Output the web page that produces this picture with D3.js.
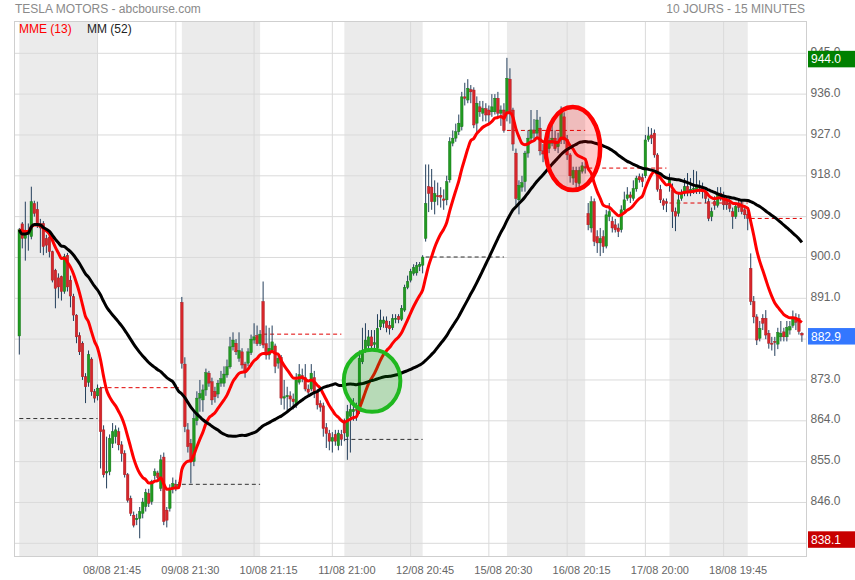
<!DOCTYPE html>
<html><head><meta charset="utf-8">
<script src="https://cdn.jsdelivr.net/npm/d3@7"></script>
<style>body{margin:0;background:#fff;}svg{display:block;font-family:Arial,"Liberation Sans",sans-serif;}</style>
</head><body><svg id="c" width="855" height="580"></svg>
<script>
// ---- DATA (15-minute bars, 10 sessions) ----
const opens=[
882.7,907.4,904.2,905.0,904.6,911.9,910.6,907.5,907.5,904.2,904.5,901.3,897.2,895.5,895.8,892.5,900.5,895.0,891.4,887.3,882.8,881.1,873.7,872.5,877.6,870.4,869.5,
871.2,862.0,852.5,852.8,859.0,860.5,861.6,858.7,856.8,852.1,846.9,843.2,842.2,842.5,843.6,845.1,848.0,846.2,851.9,852.5,849.1,856.0,844.3,844.7,849.1,850.0,849.5,
890.1,876.5,862.0,859.0,855.0,864.0,869.0,868.6,870.8,874.5,872.6,870.5,869.9,872.3,872.3,874.1,875.9,880.3,881.1,877.8,879.2,876.5,876.7,879.0,881.8,882.8,881.0,
890.3,881.0,878.5,879.6,880.5,876.7,878.0,869.0,869.3,869.5,868.8,867.5,872.5,874.0,873.5,871.0,871.0,873.5,870.5,867.8,867.3,862.5,861.2,859.5,861.0,858.5,861.0,
863.5,860.5,865.0,866.0,866.5,866.0,877.0,879.6,880.5,882.5,880.8,880.0,884.7,885.5,886.0,885.0,884.5,886.5,887.0,886.4,888.4,893.4,895.0,896.5,896.6,898.0,898.3,
904.2,915.6,915.5,912.3,913.6,913.7,912.9,912.7,917.1,925.2,926.3,927.7,928.8,935.4,934.7,937.0,936.9,929.6,933.2,931.8,932.8,932.5,932.1,932.1,935.1,931.8,932.5,
931.8,939.3,932.5,923.0,912.7,915.5,916.7,923.0,926.3,928.1,927.4,928.5,923.5,922.2,924.0,925.2,926.3,924.4,925.9,931.0,926.0,922.6,917.5,919.2,916.3,919.0,920.0,
909.7,906.5,912.3,904.6,903.2,904.6,902.5,909.0,908.0,907.2,906.5,906.1,910.5,913.0,913.8,913.0,915.1,917.8,917.6,918.0,926.0,927.0,927.4,922.6,915.0,912.5,912.3,
915.8,914.9,910.1,909.7,913.0,914.2,915.6,914.6,915.0,914.8,915.6,915.5,914.5,912.3,909.0,912.3,911.5,914.1,913.4,912.5,911.9,910.1,909.0,911.5,911.2,910.5,909.5,
897.6,890.3,886.9,882.2,886.6,886.6,883.3,881.1,881.5,880.9,882.5,883.6,882.5,884.0,885.0,886.6,886.6,883.3];
const highs=[
906.5,907.8,912.3,907.5,915.6,912.5,912.3,908.5,908.0,905.0,905.0,901.5,897.5,896.5,896.0,900.8,901.0,896.0,892.0,887.5,883.5,881.5,874.5,879.5,878.0,871.0,872.0,
871.5,863.0,860.5,861.0,863.5,863.0,862.5,859.5,857.5,852.5,847.5,844.0,843.5,845.0,847.0,849.0,849.0,851.0,853.5,853.0,856.5,857.0,845.0,850.0,851.5,851.0,850.5,
891.3,878.0,863.5,860.0,866.0,870.5,873.0,872.0,875.5,875.0,873.5,871.5,873.0,875.0,876.0,877.5,882.5,883.5,882.0,883.5,880.0,877.0,880.0,883.0,885.5,885.0,884.0,
894.7,885.0,884.5,885.0,881.0,878.5,878.5,873.0,871.5,870.5,870.0,874.5,876.5,875.5,876.5,872.0,876.5,875.0,871.0,868.5,868.0,863.5,862.0,861.5,862.0,862.0,862.0,
864.5,867.5,868.0,869.0,868.0,879.5,884.5,885.5,884.0,884.0,884.0,887.5,888.5,887.0,887.0,886.0,887.5,887.5,887.5,889.5,894.0,896.0,897.5,898.5,899.0,899.0,900.5,
920.5,920.5,919.5,917.0,916.5,915.5,915.0,918.0,926.5,928.0,929.5,931.5,936.5,938.5,939.3,938.0,937.5,935.5,934.5,934.5,934.0,933.5,936.0,936.0,936.5,933.5,934.0,
944.0,941.7,933.0,924.0,917.0,918.0,923.5,928.0,932.5,930.5,932.5,931.0,925.0,925.5,927.5,929.5,928.0,927.5,933.3,932.0,927.0,923.0,920.0,920.0,920.0,921.0,921.0,
912.0,913.5,913.0,906.0,906.5,906.0,910.5,912.0,909.0,908.5,907.5,911.5,914.5,915.5,914.5,917.0,918.0,918.5,918.5,927.0,928.8,928.5,928.2,923.0,916.0,913.0,913.0,
918.5,916.3,911.0,914.0,915.0,917.5,918.6,917.5,919.3,919.0,917.0,916.5,915.0,913.0,911.0,913.5,915.5,915.5,914.5,913.5,913.0,911.0,912.0,912.5,912.5,911.5,910.5,
900.9,891.5,887.5,886.0,887.5,888.4,884.0,882.5,882.5,884.5,886.0,884.5,886.0,886.0,888.3,887.7,887.5,883.5];
const lows=[
878.6,902.0,899.3,901.5,904.0,909.0,906.5,901.0,900.5,901.0,900.0,894.5,888.8,891.0,890.5,892.0,892.5,889.0,886.0,881.1,878.5,873.0,867.9,871.5,869.5,868.0,868.5,
853.5,851.5,849.1,852.0,858.0,859.0,857.5,855.0,851.5,846.0,843.0,840.5,841.0,838.1,842.5,844.0,845.0,845.5,851.0,850.5,848.5,841.0,840.5,844.0,848.0,848.5,849.0,
875.5,861.5,857.0,850.2,854.0,863.0,866.0,866.0,869.5,871.5,867.5,868.0,869.0,871.5,871.5,873.5,875.5,879.5,878.5,877.0,875.5,873.5,876.0,878.5,881.0,880.5,880.5,
880.0,877.5,877.5,879.0,874.5,875.5,867.5,866.5,866.0,867.0,866.5,866.8,872.0,872.5,870.5,869.5,870.5,869.0,866.5,866.0,860.5,858.0,857.5,857.0,858.5,857.5,858.5,
859.5,855.4,857.0,864.0,864.0,865.5,876.5,879.0,879.5,879.5,879.5,879.5,884.0,884.5,883.5,883.0,884.0,885.5,885.5,886.0,888.0,893.0,894.5,896.0,896.0,897.0,896.5,
903.5,910.0,910.5,909.5,911.5,911.0,910.5,911.5,916.5,924.5,925.5,927.0,928.0,933.5,934.0,934.0,928.5,927.5,931.0,930.0,930.0,929.5,931.0,931.5,931.0,929.0,927.5,
930.0,929.5,923.5,911.5,909.5,914.5,914.5,922.0,925.5,926.0,926.5,922.5,921.0,921.5,923.0,924.5,923.5,923.0,925.0,925.0,921.5,916.5,916.0,915.0,915.5,918.5,918.5,
906.0,905.5,902.5,901.0,900.3,901.0,902.0,908.0,905.5,905.5,904.5,905.5,910.0,912.5,912.0,912.5,914.5,916.5,915.5,917.5,925.5,925.0,922.0,914.5,912.0,910.5,910.0,
914.5,906.5,905.8,909.0,912.5,913.5,913.5,913.5,914.0,914.0,914.0,913.0,912.0,908.0,908.0,910.5,911.0,912.5,910.5,910.5,910.0,906.3,908.5,910.0,909.5,908.5,906.0,
889.5,885.5,880.7,881.5,884.0,882.0,879.9,879.5,878.3,879.8,881.5,881.5,881.5,883.0,884.5,884.0,883.0,881.4];
const closes=[
906.1,904.2,905.2,906.0,912.3,909.7,907.2,906.5,902.4,902.7,901.3,895.0,893.2,893.5,892.5,900.2,893.5,891.5,887.3,882.5,879.2,873.7,871.5,878.6,870.4,869.0,871.2,
861.6,852.1,852.8,860.1,861.6,862.0,858.7,856.8,852.1,846.5,843.6,841.0,842.5,844.0,846.1,848.2,845.8,850.6,852.8,851.5,855.4,841.8,842.1,849.1,850.2,849.5,850.0,
876.7,862.7,858.3,855.4,864.5,869.0,870.0,870.8,874.6,872.3,868.6,869.3,872.3,873.3,874.3,875.9,880.3,881.8,879.2,879.5,876.3,875.0,879.2,882.0,882.5,881.0,883.1,
880.7,878.5,880.0,881.4,876.0,877.8,869.0,869.3,869.6,868.8,868.2,873.0,874.2,873.8,871.0,870.3,874.5,870.0,867.5,867.0,862.3,861.2,859.5,860.3,859.5,861.3,859.9,
861.3,866.0,866.5,866.5,866.3,877.8,879.2,881.8,882.5,880.5,881.2,884.4,886.2,886.2,884.5,884.3,886.5,886.6,886.3,888.8,893.4,894.7,896.9,897.8,898.2,898.5,900.1,
911.9,914.1,912.3,914.1,913.4,913.3,912.6,916.7,925.5,926.3,927.7,929.6,935.4,935.1,937.3,936.5,929.2,934.0,932.1,932.8,931.4,931.4,933.2,935.1,931.8,932.5,928.0,
939.5,931.8,925.0,913.0,915.9,916.5,923.0,926.3,928.1,927.4,930.3,923.5,922.8,924.4,925.8,926.3,924.0,925.5,932.1,925.9,922.6,918.0,919.2,916.5,919.2,920.2,919.7,
907.2,912.3,903.5,903.2,904.2,902.4,909.4,910.1,906.5,906.1,905.7,910.5,912.7,913.8,913.2,915.2,917.5,917.1,916.7,925.9,926.8,926.3,922.6,915.0,912.7,911.5,911.9,
917.1,910.1,909.1,912.7,914.2,915.6,914.6,915.0,915.2,915.6,915.3,914.5,913.0,908.6,910.1,911.5,914.1,913.4,911.6,911.6,910.8,909.0,911.2,911.0,910.1,909.4,908.6,
890.3,886.9,881.8,884.4,885.5,882.9,881.1,881.0,881.3,883.5,883.3,882.5,884.6,884.8,886.8,885.7,883.7,882.9];
const dayStarts=[0,27,54,81,108,135,162,189,216,243];
const prevCloses=[864.5,871.3,850.0,883.1,859.9,900.1,928.0,919.7,912.0,908.6];
const shadedDays=[0,2,4,6,8];
const tickIdx=[25,51,77,103,129,155,181,207,233];
const tickLabels=["08/08 21:45","09/08 21:30","10/08 21:15","11/08 21:00","12/08 20:45","15/08 20:30","16/08 20:15","17/08 20:00","18/08 19:45"];
const yTicks=[945,936,927,918,909,900,891,882,873,864,855,846,837];
const yLabelTicks=[945,936,927,918,909,900,891,873,864,855,846];
const emaPeriod=13, smaPeriod=52;
const annIdx=[117.2,183.9], annVal=[872.8,924.0];

// ---- CHART ----
const svg=d3.select("#c");
const n=closes.length;
const L=14.5,R=806.5,T=21.5,B=556.5;
const x=d3.scaleLinear().domain([0,260]).range([19.3,801.9]);
const y=d3.scaleLinear().domain([837,945]).range([543.3,53.3]);
const dayEnd=d=>d<dayStarts.length-1?dayStarts[d+1]-1:n-1;

svg.append("defs").append("clipPath").attr("id","clip").append("rect")
  .attr("x",L).attr("y",T).attr("width",R-L).attr("height",B-T);

// shading
svg.append("g").selectAll("rect").data(shadedDays).join("rect")
  .attr("x",d=>x(dayStarts[d])).attr("width",d=>x(dayEnd(d))-x(dayStarts[d]))
  .attr("y",T).attr("height",B-T).attr("fill","#ebebeb");

// grid
const grid=svg.append("g").attr("stroke","#dadada").attr("stroke-width",1);
grid.selectAll(".h").data(yTicks).join("line").attr("class","h")
  .attr("x1",L).attr("x2",R).attr("y1",d=>y(d)).attr("y2",d=>y(d));
grid.selectAll(".v").data(tickIdx).join("line").attr("class","v")
  .attr("x1",d=>x(d+1)).attr("x2",d=>x(d+1)).attr("y1",T).attr("y2",B);
svg.append("rect").attr("x",L).attr("y",T).attr("width",R-L).attr("height",B-T)
  .attr("fill","none").attr("stroke","#cfcfcf");

const plot=svg.append("g").attr("clip-path","url(#clip)");

// previous close dashed lines (dark when the session closed above it, red otherwise)
plot.append("g").selectAll("line").data(d3.range(dayStarts.length)).join("line")
  .attr("x1",d=>x(dayStarts[d])).attr("x2",d=>x(dayEnd(d)))
  .attr("y1",d=>y(prevCloses[d])).attr("y2",d=>y(prevCloses[d]))
  .attr("stroke",d=>closes[dayEnd(d)]>=prevCloses[d]?"#333":"#e00000")
  .attr("stroke-width",1).attr("stroke-dasharray","4,3");

// candles
const idx=d3.range(n);
plot.append("g").selectAll("line").data(idx).join("line")
  .attr("x1",i=>x(i)).attr("x2",i=>x(i))
  .attr("y1",i=>y(Math.max(highs[i],opens[i],closes[i]))).attr("y2",i=>y(Math.min(lows[i],opens[i],closes[i])))
  .attr("stroke","#243f5c").attr("stroke-width",1);
plot.append("g").selectAll("rect").data(idx).join("rect")
  .attr("x",i=>x(i)-1.3).attr("width",2.6)
  .attr("y",i=>y(Math.max(opens[i],closes[i])))
  .attr("height",i=>Math.max(1,y(Math.min(opens[i],closes[i]))-y(Math.max(opens[i],closes[i]))))
  .attr("fill",i=>closes[i]>=opens[i]?"#219a21":"#d7262b")
  .attr("stroke",i=>closes[i]>=opens[i]?"#15701a":"#a01a1e").attr("stroke-width",0.4);

// moving averages
const ema=[];const k=2/(emaPeriod+1);
closes.forEach((c,i)=>ema.push(i===0?c:ema[i-1]+k*(c-ema[i-1])));
const sma=closes.map((c,i)=>d3.mean(closes.slice(Math.max(0,i-smaPeriod+1),i+1)));
const line=d3.line().x((d,i)=>x(i)).y(d=>y(d)).curve(d3.curveMonotoneX);
plot.append("path").datum(ema).attr("d",line).attr("fill","none").attr("stroke","#ff0000").attr("stroke-width",3).attr("stroke-linejoin","round");
plot.append("path").datum(sma).attr("d",line).attr("fill","none").attr("stroke","#000").attr("stroke-width",3).attr("stroke-linejoin","round");

// annotations
plot.append("ellipse").attr("cx",x(annIdx[0])).attr("cy",y(annVal[0])).attr("rx",28.3).attr("ry",31)
  .attr("fill","rgba(0,160,0,0.22)").attr("stroke","#1fb81f").attr("stroke-width",4);
plot.append("ellipse").attr("cx",x(annIdx[1])).attr("cy",y(annVal[1])).attr("rx",27.3).attr("ry",41.5)
  .attr("fill","rgba(255,0,0,0.2)").attr("stroke","#ff0000").attr("stroke-width",4.5);

// y axis
const yAxis=svg.append("g").attr("transform",`translate(${R+4},0)`)
  .call(d3.axisRight(y).tickValues(yLabelTicks).tickFormat(d3.format(".1f")).tickSize(0));
yAxis.select(".domain").remove();
yAxis.selectAll("text").attr("x",0).attr("dy","0.17em").attr("fill","#666").style("font-size","12px").style("font-family","Arial,'Liberation Sans',sans-serif");

// x axis
const xAxis=svg.append("g").attr("transform",`translate(0,${B})`)
  .call(d3.axisBottom(x).tickValues(tickIdx.map(t=>t+1)).tickFormat((d,i)=>tickLabels[i]).tickSize(0));
xAxis.select(".domain").remove();
xAxis.selectAll("text").attr("dx",14).attr("y",17.5).attr("dy",0).attr("fill","#666").style("font-size","11px").style("font-family","Arial,'Liberation Sans',sans-serif");

// price tags
const tags=[{v:d3.max(highs),c:"#008000"},{v:closes[n-1],c:"#3377ff"},{v:d3.min(lows),c:"#c80000"}];
const tg=svg.append("g").selectAll("g").data(tags).join("g");
tg.append("rect").attr("x",808).attr("width",47).attr("y",d=>y(d.v)-7).attr("height",16.5).attr("fill",d=>d.c);
tg.append("text").attr("x",811).attr("y",d=>y(d.v)+5.5).attr("fill","#fff").style("font-size","12px").text(d=>d.v.toFixed(1));

// titles & legend
svg.append("text").attr("x",15).attr("y",12.5).attr("fill","#8a8a8a").style("font-size","12px").text("TESLA MOTORS - abcbourse.com");
svg.append("text").attr("x",805).attr("y",12.5).attr("text-anchor","end").attr("fill","#8a8a8a").style("font-size","12px").text("10 JOURS - 15 MINUTES");
svg.append("text").attr("x",19).attr("y",32.5).attr("fill","#ff0000").style("font-size","12px").text(`MME (${emaPeriod})`);
svg.append("text").attr("x",87).attr("y",32.5).attr("fill","#222").style("font-size","12px").text(`MM (${smaPeriod})`);
</script></body></html>
